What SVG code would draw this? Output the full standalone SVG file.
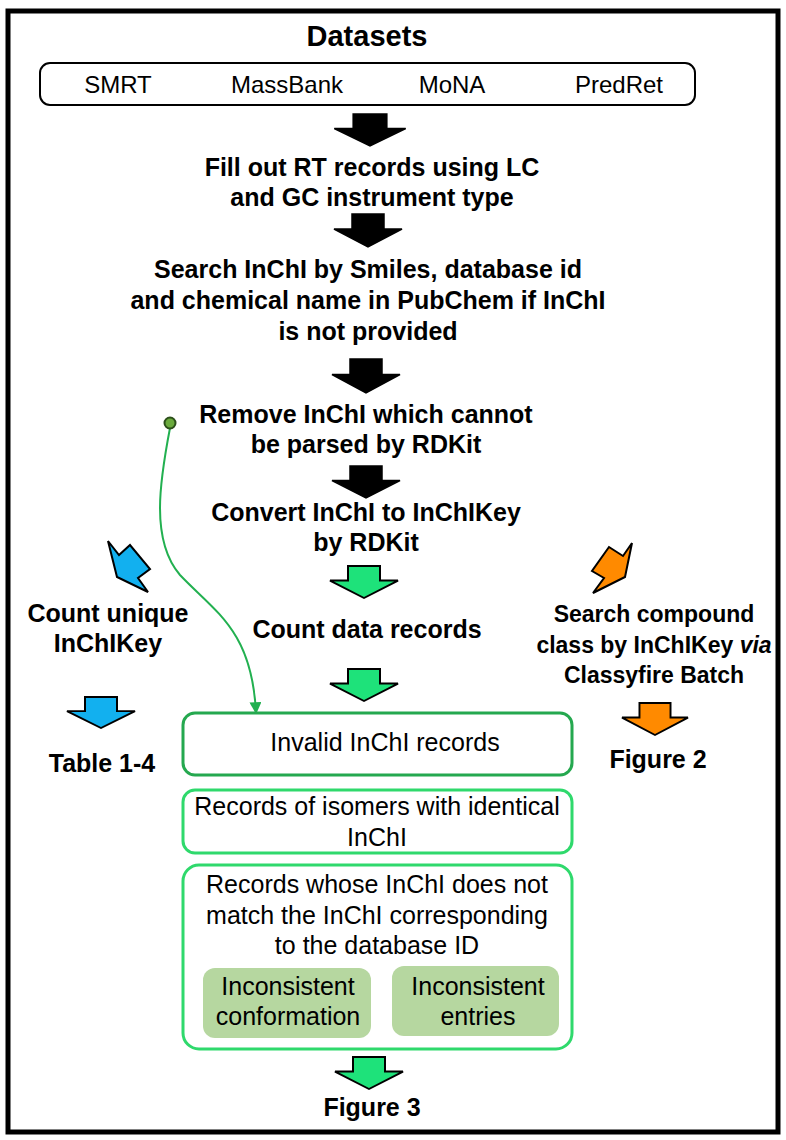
<svg xmlns="http://www.w3.org/2000/svg" width="786" height="1140" viewBox="0 0 786 1140">
<defs>
<style>
text{font-family:"Liberation Sans",Arial,sans-serif;fill:#000;text-anchor:middle}
.b{font-weight:bold;font-size:25px}
.bs{font-weight:bold;font-size:23px}
.t{font-size:24px}
.r{font-size:25px}
.blk{fill:#000;stroke:#000;stroke-width:1.5;stroke-linejoin:miter}
.grn{fill:#1ee27a;stroke:#000;stroke-width:2}
.blu{fill:#12b0ef;stroke:#000;stroke-width:2}
.org{fill:#ff8a00;stroke:#000;stroke-width:2}
.box{fill:#fff;stroke:#2fd96c;stroke-width:3}
.sub{fill:#b6d7a0;stroke:none}
</style>
<path id="dn" d="M-16,0 H16 V15 H34 L0,33 L-34,15 H-16 Z"/>
<marker id="ah" viewBox="0 0 10 10" refX="9" refY="5" markerWidth="14" markerHeight="12" orient="auto" markerUnits="userSpaceOnUse">
<path d="M0,0 L10,5 L0,10 Z" fill="#22b050"/>
</marker>
</defs>
<rect x="0" y="0" width="786" height="1140" fill="#fff"/>
<rect x="8" y="11" width="770" height="1121" fill="none" stroke="#000" stroke-width="5"/>

<g id="datasets">
<text x="367" y="46" style="font-weight:bold;font-size:29px">Datasets</text>
<rect x="40" y="63" width="655" height="42" rx="10" fill="#fff" stroke="#000" stroke-width="2"/>
<text class="t" x="118" y="93">SMRT</text>
<text class="t" x="287" y="93">MassBank</text>
<text class="t" x="452" y="93">MoNA</text>
<text class="t" x="619" y="93">PredRet</text>
</g>

<g id="arrows">
<use href="#dn" class="blk" transform="translate(370,114) scale(1.05,0.97)"/>
<use href="#dn" class="blk" transform="translate(368,214)"/>
<use href="#dn" class="blk" transform="translate(366,359) scale(1,1.03)"/>
<use href="#dn" class="blk" transform="translate(366,466) scale(1,0.97)"/>
<use href="#dn" class="grn" transform="translate(364,566) scale(1,0.97)"/>
<use href="#dn" class="grn" transform="translate(364,669) scale(1,0.97)"/>
<use href="#dn" class="grn" transform="translate(369,1057) scale(1,0.97)"/>
<use href="#dn" class="blu" transform="translate(101,697) scale(1,0.94)"/>
<use href="#dn" class="org" transform="translate(655,703) scale(0.97,0.97)"/>
<polygon class="blu" points="108,541 119,555 130,545 150,569 138,578 148,592 117,577"/>
<polygon class="org" points="632,543 623,556 609,547 592,571 604,578 593,593 625,577"/>
</g>

<g id="connectors">
<path d="M170,428 C160,480 150,540 180,575 C215,612 252,630 256,713" fill="none" stroke="#22b050" stroke-width="2" marker-end="url(#ah)"/>
<circle cx="170" cy="423" r="5.5" fill="#6aaa3c" stroke="#2c4f1a" stroke-width="2"/>
</g>

<g id="step-fill">
<text class="b" x="372" y="176">Fill out RT records using LC</text>
<text class="b" x="372" y="206">and GC instrument type</text>
</g>
<g id="step-search">
<text class="b" x="368" y="278">Search InChI by Smiles, database id</text>
<text class="b" x="368" y="309">and chemical name in PubChem if InChI</text>
<text class="b" x="368" y="340">is not provided</text>
</g>
<g id="step-remove">
<text class="b" x="366" y="423">Remove InChI which cannot</text>
<text class="b" x="366" y="453">be parsed by RDKit</text>
</g>
<g id="step-convert">
<text class="b" x="366" y="521">Convert InChI to InChIKey</text>
<text class="b" x="366" y="551">by RDKit</text>
</g>
<g id="count-unique">
<text class="b" x="108" y="622">Count unique</text>
<text class="b" x="108" y="652">InChIKey</text>
</g>
<g id="count-records">
<text class="b" x="367" y="638">Count data records</text>
</g>
<g id="search-class">
<text class="bs" x="654" y="622">Search compound</text>
<text class="bs" x="654" y="653">class by InChIKey <tspan font-style="italic">via</tspan></text>
<text class="bs" x="654" y="683">Classyfire Batch</text>
</g>
<g id="table">
<text class="b" x="102" y="772">Table 1-4</text>
</g>
<g id="figure2">
<text class="b" x="658" y="768">Figure 2</text>
</g>
<g id="invalid">
<rect x="183" y="713" width="389" height="62" rx="12" fill="#fff" stroke="#25a84f" stroke-width="3"/>
<text class="r" x="385" y="751">Invalid InChI records</text>
</g>
<g id="isomers">
<rect class="box" x="183" y="790" width="389" height="63" rx="12"/>
<text class="r" x="377" y="815">Records of isomers with identical</text>
<text class="r" x="377" y="846">InChI</text>
</g>
<g id="mismatch">
<rect class="box" x="183" y="865" width="389" height="184" rx="16"/>
<text class="r" x="377" y="893">Records whose InChI does not</text>
<text class="r" x="377" y="924">match the InChI corresponding</text>
<text class="r" x="377" y="954">to the database ID</text>
</g>
<g id="conformation">
<rect class="sub" x="203" y="968" width="168" height="70" rx="12"/>
<text class="r" x="288" y="995">Inconsistent</text>
<text class="r" x="288" y="1025">conformation</text>
</g>
<g id="entries">
<rect class="sub" x="392" y="966" width="167" height="70" rx="12"/>
<text class="r" x="478" y="995">Inconsistent</text>
<text class="r" x="478" y="1025">entries</text>
</g>
<g id="figure3">
<text class="b" x="372" y="1116">Figure 3</text>
</g>
</svg>
